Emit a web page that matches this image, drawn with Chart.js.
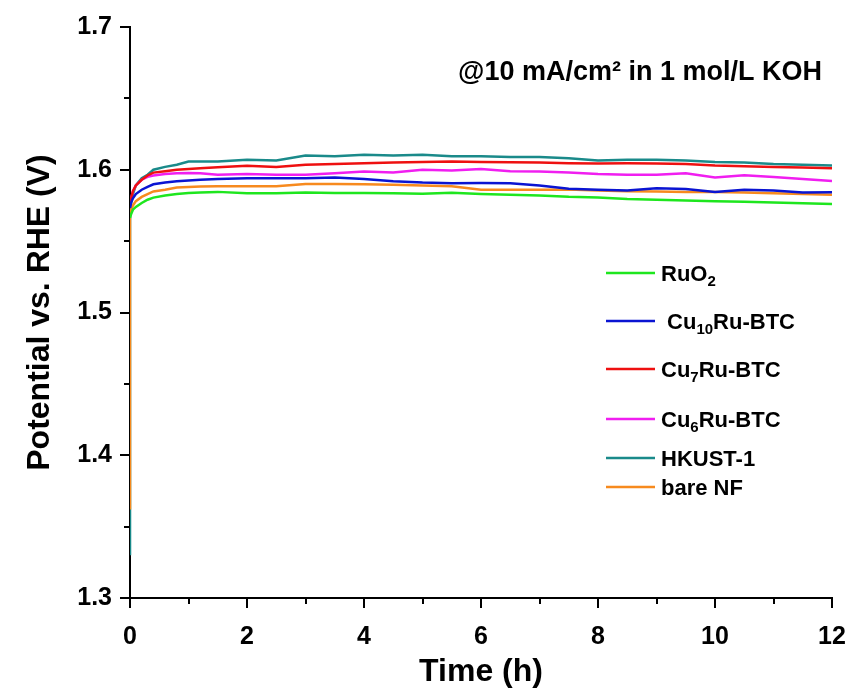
<!DOCTYPE html>
<html>
<head>
<meta charset="utf-8">
<title>Stability test</title>
<script src="https://cdn.jsdelivr.net/npm/chart.js@4.4.0/dist/chart.umd.min.js"></script>
<style>
  body { margin: 0; background: #fff; }
  #wrap { width: 850px; height: 695px; }
</style>
</head>
<body>
<div id="wrap"><canvas id="myChart" width="850" height="695"></canvas></div>
<script>
// time axis (h), shared by every curve
const hours = [0, 0.02, 0.05, 0.1, 0.2, 0.3, 0.4, 0.6, 0.8, 1.0, 1.2, 1.5, 2.0, 2.5, 3.0, 3.5, 4.0, 4.5,
  5.0, 5.5, 6.0, 6.5, 7.0, 7.5, 8.0, 8.5, 9.0, 9.5, 10.0, 10.5, 11.0, 11.5, 12.0];

// potential vs. RHE (V)
const ruo2 = [1.5662, 1.569, 1.572, 1.574, 1.5767, 1.579, 1.5805, 1.582, 1.583, 1.5837, 1.584, 1.5845, 1.5835,
  1.5835, 1.584, 1.5838, 1.5838, 1.5835, 1.5832, 1.5838, 1.583, 1.5825, 1.582, 1.581, 1.5805, 1.5795, 1.579,
  1.5785, 1.578, 1.5775, 1.577, 1.5765, 1.576];
const cu10 = [1.5732, 1.577, 1.580, 1.583, 1.586, 1.588, 1.5898, 1.591, 1.592, 1.5925, 1.593, 1.5935, 1.594,
  1.594, 1.594, 1.5945, 1.5935, 1.592, 1.591, 1.5905, 1.5907, 1.5905, 1.589, 1.5867, 1.586, 1.5855, 1.587,
  1.5865, 1.5845, 1.586, 1.5855, 1.584, 1.5842];
const cu7 = [1.5755, 1.580, 1.585, 1.589, 1.593, 1.596, 1.598, 1.599, 1.600, 1.6005, 1.601, 1.6018, 1.6028,
  1.602, 1.6035, 1.604, 1.6045, 1.605, 1.6055, 1.6058, 1.6055, 1.6052, 1.605, 1.6045, 1.6043, 1.6045, 1.6043,
  1.604, 1.603, 1.6025, 1.602, 1.6015, 1.601];
const cu6 = [1.574, 1.580, 1.585, 1.589, 1.593, 1.595, 1.596, 1.597, 1.5975, 1.5977, 1.5975, 1.5965, 1.597,
  1.5965, 1.5965, 1.5975, 1.5988, 1.598, 1.600, 1.5995, 1.6005, 1.599, 1.5988, 1.598, 1.597, 1.5965, 1.5965,
  1.5975, 1.5945, 1.5962, 1.595, 1.5935, 1.5922];
const hkust = [1.572, 1.577, 1.583, 1.589, 1.594, 1.5965, 1.600, 1.602, 1.6035, 1.6058, 1.6058, 1.6058, 1.607,
  1.6065, 1.610, 1.6095, 1.6105, 1.610, 1.6105, 1.6095, 1.6095, 1.609, 1.609, 1.608, 1.6065, 1.607, 1.607,
  1.6065, 1.6055, 1.605, 1.604, 1.6035, 1.603];
const bareNF = [1.569, 1.572, 1.575, 1.578, 1.581, 1.583, 1.5848, 1.586, 1.5875, 1.588, 1.5883, 1.5885, 1.5885,
  1.5885, 1.590, 1.590, 1.5898, 1.5895, 1.589, 1.5885, 1.586, 1.586, 1.586, 1.5862, 1.5855, 1.585, 1.5848,
  1.5845, 1.5845, 1.584, 1.5835, 1.583, 1.5825];

// readings at t = 0 before the current settles
const hkustStart = [1.33, 1.362];
const bareStart = [1.362];

const seriesNames = ['RuO2', 'Cu10Ru-BTC', 'Cu7Ru-BTC', 'Cu6Ru-BTC', 'HKUST-1', 'bare NF'];
const seriesValues = [ruo2, cu10, cu7, cu6, hkust, bareNF];
const seriesStarts = [[], [], [], [], hkustStart, bareStart];
const seriesColors = ['#1ee61e', '#0a14d2', '#ee1010', '#f01ef0', '#1a8a8a', '#f78a1e'];

// legend text pieces: [text, isSubscript]
const legendParts = [
  [['RuO', 0], ['2', 1]],
  [[' Cu', 0], ['10', 1], ['Ru-BTC', 0]],
  [['Cu', 0], ['7', 1], ['Ru-BTC', 0]],
  [['Cu', 0], ['6', 1], ['Ru-BTC', 0]],
  [['HKUST-1', 0]],
  [['bare NF', 0]]
];

const xTicks = [0, 2, 4, 6, 8, 10, 12];
const xMinor = [1, 3, 5, 7, 9, 11];
const yTicks = [1.3, 1.4, 1.5, 1.6, 1.7];
const yMinor = [1.35, 1.45, 1.55, 1.65];

const FONT = "'Liberation Sans', Arial, sans-serif";

function toPoints(start, values) {
  const pts = start.map(v => ({ x: 0, y: v }));
  hours.forEach((h, i) => pts.push({ x: h, y: values[i] }));
  return pts;
}

const datasets = seriesNames.map((name, i) => ({
  label: name,
  data: toPoints(seriesStarts[i], seriesValues[i]),
  borderColor: seriesColors[i],
  backgroundColor: seriesColors[i],
  borderWidth: 2.5,
  pointRadius: 0,
  tension: 0,
  fill: false,
  order: i === 4 ? 1 : 0
}));

// small ticks between the labelled ones
const minorTicks = {
  id: 'minorTicks',
  afterDraw(chart) {
    const { ctx, scales: { x, y } } = chart;
    ctx.save();
    ctx.strokeStyle = '#000';
    ctx.lineWidth = 2;
    ctx.beginPath();
    yMinor.forEach(v => {
      const py = Math.round(y.getPixelForValue(v));
      ctx.moveTo(x.left - 6, py);
      ctx.lineTo(x.left, py);
    });
    xMinor.forEach(v => {
      const px = Math.round(x.getPixelForValue(v));
      ctx.moveTo(px, y.bottom);
      ctx.lineTo(px, y.bottom + 6);
    });
    ctx.stroke();
    ctx.restore();
  }
};

// legend with subscripts + condition note
const legendNote = {
  id: 'legendNote',
  afterDraw(chart) {
    const ctx = chart.ctx;
    ctx.save();
    ctx.fillStyle = '#000';
    ctx.textBaseline = 'middle';
    ctx.textAlign = 'right';
    ctx.font = 'bold 27px ' + FONT;
    ctx.fillText('@10 mA/cm\u00b2 in 1 mol/L KOH', 822, 73);

    const rowsY = [273, 321, 369, 419, 458, 487];
    ctx.textAlign = 'left';
    chart.data.datasets.forEach((ds, i) => {
      const yy = rowsY[i];
      ctx.strokeStyle = ds.borderColor;
      ctx.lineWidth = 2.5;
      ctx.beginPath();
      ctx.moveTo(606, yy);
      ctx.lineTo(655, yy);
      ctx.stroke();
      let xx = 661;
      legendParts[i].forEach(([txt, sub]) => {
        ctx.font = sub ? 'bold 15px ' + FONT : 'bold 22px ' + FONT;
        ctx.fillText(txt, xx, sub ? yy + 9 : yy + 2);
        xx += ctx.measureText(txt).width;
      });
    });
    ctx.restore();
  }
};

const grafica = document.getElementById('myChart').getContext('2d');
const myChart = new Chart(grafica, {
  type: 'line',
  data: { datasets: datasets },
  options: {
    responsive: false,
    animation: false,
    devicePixelRatio: 1,
    layout: { padding: { left: 0, right: 18, top: 27, bottom: 0 } },
    plugins: {
      legend: { display: false },
      tooltip: { enabled: false }
    },
    scales: {
      x: {
        type: 'linear',
        min: 0,
        max: 12,
        afterBuildTicks: s => { s.ticks = xTicks.map(v => ({ value: v })); },
        ticks: {
          color: '#000',
          padding: 14,
          maxRotation: 0,
          font: { family: FONT, size: 25, weight: 'bold' },
          callback: v => String(v)
        },
        grid: { drawOnChartArea: false, drawTicks: true, tickLength: 10, color: '#000', lineWidth: 2 },
        border: { display: true, color: '#000', width: 2 },
        title: {
          display: true,
          text: 'Time (h)',
          color: '#000',
          font: { family: FONT, size: 32, weight: 'bold' },
          padding: { top: 0, bottom: 4 }
        },
        afterFit: s => { s.height = 97; s.paddingRight = 0; s.paddingLeft = 0; }
      },
      y: {
        type: 'linear',
        min: 1.3,
        max: 1.7,
        afterBuildTicks: s => { s.ticks = yTicks.map(v => ({ value: v })); },
        ticks: {
          color: '#000',
          padding: 8,
          font: { family: FONT, size: 25, weight: 'bold' },
          callback: v => v.toFixed(1)
        },
        grid: { drawOnChartArea: false, drawTicks: true, tickLength: 10, color: '#000', lineWidth: 2 },
        border: { display: true, color: '#000', width: 2 },
        title: {
          display: true,
          text: 'Potential vs. RHE (V)',
          color: '#000',
          font: { family: FONT, size: 32, weight: 'bold' },
          padding: { top: 21, bottom: 0 }
        },
        afterFit: s => { s.width = 130; }
      }
    }
  },
  plugins: [minorTicks, legendNote]
});
</script>
</body>
</html>
